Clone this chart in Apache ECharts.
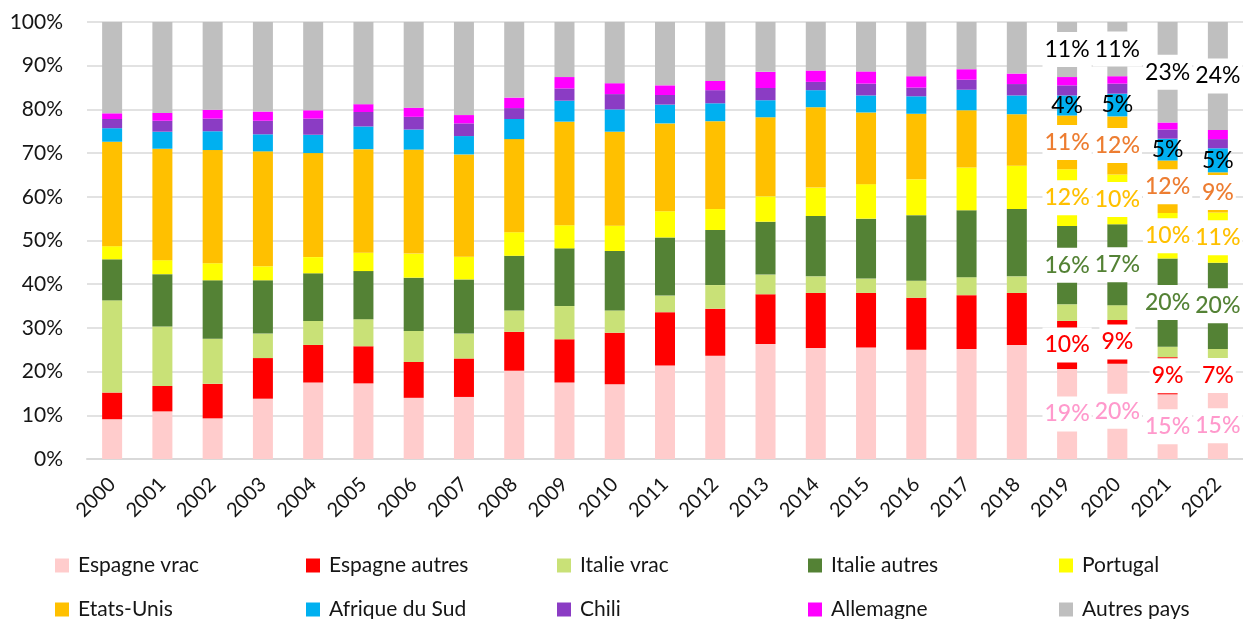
<!DOCTYPE html>
<html>
<head>
<meta charset="utf-8">
<script src="https://cdn.jsdelivr.net/npm/echarts@6/dist/echarts.min.js"></script>
<style>
html,body{margin:0;padding:0;background:#fff;}
#main{width:1243px;height:619px;}
</style>
</head>
<body>
<div id="main"></div>
<script>
// parts de marché (%) par origine, 2000-2022
var years = ['2000','2001','2002','2003','2004','2005','2006','2007','2008','2009','2010','2011',
    '2012','2013','2014','2015','2016','2017','2018','2019','2020','2021','2022'];
var espagneVrac   = [9.1, 10.9, 9.3, 13.8, 17.5, 17.3, 14.0, 14.2, 20.2, 17.5, 17.1, 21.4, 23.6, 26.3, 25.4, 25.5, 25.0, 25.2, 26.1, 20.6, 21.8, 14.8, 15.2];
var espagneAutres = [6.1, 5.8, 7.9, 9.3, 8.6, 8.5, 8.2, 8.8, 8.9, 9.9, 11.8, 12.2, 10.8, 11.4, 12.6, 12.5, 11.9, 12.3, 11.9, 11.0, 10.0, 8.5, 7.8];
var italieVrac    = [21.1, 13.6, 10.3, 5.6, 5.5, 6.2, 7.1, 5.7, 4.9, 7.6, 5.1, 3.8, 5.4, 4.5, 3.8, 3.3, 3.9, 4.1, 3.8, 3.8, 3.4, 2.4, 2.2];
var italieAutres  = [9.4, 12.0, 13.4, 12.2, 10.9, 11.0, 12.2, 12.4, 12.5, 13.2, 13.6, 13.3, 12.6, 12.1, 13.8, 13.7, 15.0, 15.3, 15.4, 17.9, 18.5, 20.2, 19.7];
var portugal      = [3.0, 3.2, 3.9, 3.2, 3.7, 4.2, 5.5, 5.2, 5.4, 5.3, 5.8, 6.0, 4.8, 5.8, 6.5, 7.9, 8.2, 9.8, 9.9, 13.0, 11.4, 10.4, 11.5];
var etatsUnis     = [23.9, 25.5, 25.9, 26.3, 23.8, 23.7, 23.8, 23.4, 21.3, 23.7, 21.5, 20.1, 20.1, 18.1, 18.4, 16.4, 15.0, 13.1, 11.8, 12.3, 13.3, 12.0, 9.2];
var afriqueSud    = [3.1, 3.9, 4.3, 3.9, 4.2, 5.2, 4.6, 4.2, 4.6, 4.8, 5.1, 4.3, 4.1, 3.9, 3.9, 3.9, 4.0, 4.7, 4.3, 4.6, 5.2, 5.0, 5.5];
var chili         = [2.1, 2.5, 2.9, 3.1, 3.7, 3.3, 2.9, 2.9, 2.5, 2.8, 3.5, 2.2, 3.0, 2.8, 1.9, 2.7, 2.0, 2.3, 2.6, 2.3, 2.3, 2.1, 2.1];
var allemagne     = [1.3, 1.8, 2.0, 2.1, 1.9, 1.8, 2.1, 1.9, 2.4, 2.6, 2.5, 2.2, 2.1, 3.7, 2.6, 2.8, 2.6, 2.4, 2.4, 1.9, 1.7, 1.6, 2.1];
var autresPays    = [20.9, 20.8, 20.1, 20.5, 20.2, 18.8, 19.6, 21.3, 17.3, 12.6, 14.0, 14.5, 13.5, 11.4, 11.1, 11.3, 12.4, 10.8, 11.8, 12.6, 12.4, 23.0, 24.7];

// étiquettes affichées sur 2019-2022
var labelStart = 19;
var lblEspagneVrac   = [19, 20, 15, 15];
var lblEspagneAutres = [10, 9, 9, 7];
var lblItalieAutres  = [16, 17, 20, 20];
var lblPortugal      = [12, 10, 10, 11];
var lblEtatsUnis     = [11, 12, 12, 9];
var lblAfriqueSud    = [4, 5, 5, 5];
var lblAutresPays    = [11, 11, 23, 24];

var yTicks = [0, 10, 20, 30, 40, 50, 60, 70, 80, 90, 100];

var FONT = 'Lato';

var _chart_obj = {
    init: function () {
        this.drawChart();
    },
    makeSeries: function (name, values, color, labels, labelColor, labelBg) {
        var data = values.map(function (v, i) {
            var item = {value: v};
            if (labels && i >= labelStart) {
                item.label = {show: true};
            }
            return item;
        });
        return {
            name: name,
            type: 'bar',
            stack: 'total',
            barWidth: 20,
            itemStyle: {color: color},
            data: data,
            label: {
                show: false,
                position: 'inside',
                fontFamily: FONT,
                fontSize: 23,
                fontWeight: labelColor === '#000000' ? 'normal' : 500,
                color: labelColor || '#000',
                backgroundColor: labelBg ? '#ffffff' : 'transparent',
                padding: labelBg ? [6, 2, 6, 2] : 0,
                lineHeight: 23,
                formatter: function (p) {
                    return labels ? labels[p.dataIndex - labelStart] + '%' : '';
                }
            },
            emphasis: {disabled: true}
        };
    },
    drawChart: function () {
        var myChart = echarts.init(document.getElementById('main'));
        var series = [
            this.makeSeries('Espagne vrac', espagneVrac, '#FFCCCC', lblEspagneVrac, '#FF99CC', true),
            this.makeSeries('Espagne autres', espagneAutres, '#FF0000', lblEspagneAutres, '#FF0000', true),
            this.makeSeries('Italie vrac', italieVrac, '#C9E177'),
            this.makeSeries('Italie autres', italieAutres, '#548235', lblItalieAutres, '#548235', true),
            this.makeSeries('Portugal', portugal, '#FFFF00', lblPortugal, '#FFC000', true),
            this.makeSeries('Etats-Unis', etatsUnis, '#FFC000', lblEtatsUnis, '#ED7D31', true),
            this.makeSeries('Afrique du Sud', afriqueSud, '#00B0F0', lblAfriqueSud, '#000000', false),
            this.makeSeries('Chili', chili, '#8B3CC4'),
            this.makeSeries('Allemagne', allemagne, '#FF00FF'),
            this.makeSeries('Autres pays', autresPays, '#BFBFBF', lblAutresPays, '#000000', true)
        ];

        // légende : 2 lignes de 5 colonnes
        var legends = series.map(function (s, i) {
            return {
                data: [s.name],
                left: 50 + (i % 5) * 251,
                top: i < 5 ? 550 : 594,
                itemWidth: 14,
                itemHeight: 14,
                itemGap: 0,
                icon: 'rect',
                selectedMode: false,
                textStyle: {fontFamily: FONT, fontSize: 21, color: '#161616', padding: [0, 0, 0, 4]}
            };
        });

        var option = {
            animation: false,
            grid: {left: 87, right: -3, top: 22, bottom: 160},
            legend: legends,
            xAxis: {
                type: 'category',
                data: years,
                axisTick: {show: false},
                axisLine: {lineStyle: {color: '#D9D9D9', width: 2}},
                axisLabel: {
                    rotate: 45,
                    margin: 22,
                    fontFamily: FONT,
                    fontSize: 20,
                    color: '#161616'
                }
            },
            yAxis: {
                type: 'value',
                min: yTicks[0],
                max: yTicks[yTicks.length - 1],
                interval: yTicks[1] - yTicks[0],
                axisLine: {show: false},
                axisTick: {show: false},
                splitLine: {lineStyle: {color: '#D9D9D9', width: 1.5}},
                axisLabel: {
                    margin: 24,
                    fontFamily: FONT,
                    fontSize: 21,
                    color: '#161616',
                    formatter: '{value}%'
                }
            },
            series: series
        };
        myChart.setOption(option);
    }
};
_chart_obj.init();
</script>
</body>
</html>
